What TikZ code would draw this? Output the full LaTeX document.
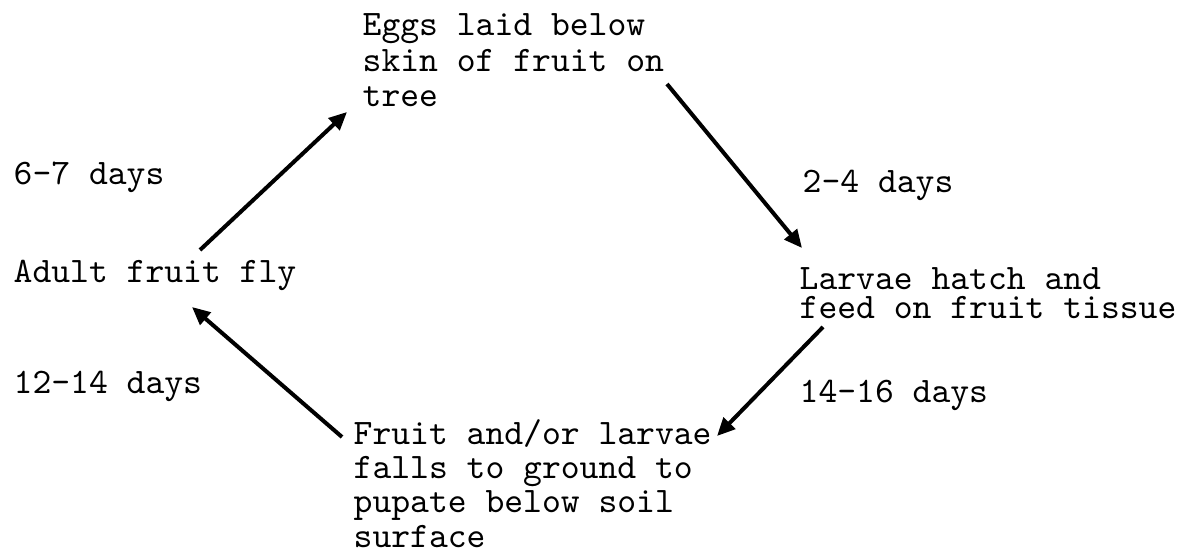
\documentclass[tikz,border=0pt]{standalone}
\usepackage{fontspec}
\usetikzlibrary{arrows.meta}
\newcommand{\machine}[1]{\ttfamily\addfontfeatures{FakeBold=1.5}\fontsize{10.2}{#1}\selectfont}
\begin{document}
\begin{tikzpicture}[x=0.01cm,y=-0.01cm,
	txt/.style={font=\machine{9.96}, inner sep=0pt, anchor=base west, align=left},
	fl/.style={line width=0.4mm, -{Triangle[length=1.8mm,width=1.6mm]}}]
	\useasboundingbox (0,0) rectangle (1183,555);
	%les etapes (base = derniere ligne)
	\node[txt, font=\machine{10.1}] (eggs) at (362,107) {Eggs laid below\\skin of fruit on\\tree};
	\node[txt, font=\machine{7.97}] (larvae) at (799,318) {Larvae hatch and\\feed on fruit tissue};
	\node[txt, font=\machine{9.7}] (fruit) at (353,547) {Fruit and/or larvae\\falls to ground to\\pupate below soil\\surface};
	\node[txt] (adult) at (13,282) {Adult fruit fly};
	%les durees
	\node[txt] (d67) at (13,185) {6-7 days};
	\node[txt] (d24) at (802,193) {2-4 days};
	\node[txt] (d1416) at (799,402) {14-16 days};
	\node[txt] (d1214) at (13,393) {12-14 days};
	%le cycle
	\draw[fl] ([shift={(187,-32)}]adult.base west) -- ([shift={(-15,5)}]eggs.base west);
	\draw[fl] ([shift={(305,-23)}]eggs.base west) -- ([shift={(3,-70)}]larvae.base west);
	\draw[fl] ([shift={(24,9)}]larvae.base west) -- ([shift={(364,-111)}]fruit.base west);
	\draw[fl] ([shift={(-11,-110)}]fruit.base west) -- ([shift={(179,25)}]adult.base west);
\end{tikzpicture}
\end{document}
